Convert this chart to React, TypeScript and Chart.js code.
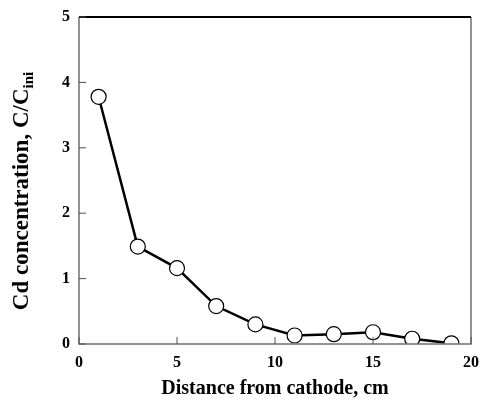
import React, { useEffect, useRef } from "react";
import { Chart, registerables } from "chart.js";

Chart.register(...registerables);

const distances = [1, 3, 5, 7, 9, 11, 13, 15, 17, 19];
const concentration = [3.78, 1.49, 1.16, 0.58, 0.3, 0.13, 0.15, 0.18, 0.08, 0.01];
const xTicks = [0, 5, 10, 15, 20];
const yTicks = [0, 1, 2, 3, 4, 5];
const xTitle = "Distance from cathode, cm";
const yTitleMain = "Cd concentration, C/C";
const yTitleSub = "ini";

const FONT = "'Liberation Serif', 'Times New Roman', serif";

const framePlugin = {
  id: "frame",
  afterDraw(chart: any) {
    const { ctx, chartArea } = chart;
    const { left, right, top, bottom } = chartArea;
    const xs = chart.scales.x;
    const ys = chart.scales.y;
    ctx.save();
    ctx.lineWidth = 1.5;
    ctx.strokeStyle = "#707070";
    ctx.beginPath();
    ctx.moveTo(left, top);
    ctx.lineTo(left, bottom);
    ctx.lineTo(right, bottom);
    ctx.lineTo(right, top);
    ctx.stroke();
    ctx.strokeStyle = "#000";
    ctx.lineWidth = 2;
    ctx.beginPath();
    ctx.moveTo(left, top);
    ctx.lineTo(right, top);
    ctx.stroke();
    ctx.lineWidth = 1;
    ctx.strokeStyle = "#505050";
    const tl = 7;
    xTicks.forEach((v) => {
      const px = xs.getPixelForValue(v);
      ctx.beginPath();
      ctx.moveTo(px, bottom);
      ctx.lineTo(px, bottom - tl);
      ctx.stroke();
    });
    yTicks.forEach((v) => {
      const py = ys.getPixelForValue(v);
      ctx.beginPath();
      ctx.moveTo(left, py);
      ctx.lineTo(left + tl, py);
      ctx.stroke();
    });
    // x title
    ctx.fillStyle = "#000";
    ctx.font = `bold 20px ${FONT}`;
    ctx.textAlign = "center";
    ctx.textBaseline = "middle";
    ctx.fillText(xTitle, (left + right) / 2, 389);
    // y title with subscript
    ctx.translate(22, 191);
    ctx.rotate(-Math.PI / 2);
    ctx.font = `bold 23px ${FONT}`;
    const w1 = ctx.measureText(yTitleMain).width;
    ctx.font = `bold 15px ${FONT}`;
    const w2 = ctx.measureText(yTitleSub).width;
    const total = w1 + w2;
    ctx.textAlign = "left";
    ctx.font = `bold 23px ${FONT}`;
    ctx.fillText(yTitleMain, -total / 2, 0);
    ctx.font = `bold 15px ${FONT}`;
    ctx.fillText(yTitleSub, -total / 2 + w1, 7);
    ctx.restore();
  },
};

export default function App() {
  const ref = useRef<HTMLCanvasElement>(null);
  useEffect(() => {
    if (!ref.current) return;
    const chart = new Chart(ref.current, {
      type: "scatter",
      data: {
        datasets: [
          {
            data: distances.map((d, i) => ({ x: d, y: concentration[i] })),
            showLine: true,
            borderColor: "#000",
            borderWidth: 2.5,
            pointRadius: 7.5,
            pointBackgroundColor: "#fff",
            pointBorderColor: "#000",
            pointBorderWidth: 1.2,
          },
        ],
      },
      options: {
        animation: false,
        responsive: false,
        maintainAspectRatio: false,
        layout: { padding: { top: 17, right: 3, left: 0, bottom: 0 } },
        plugins: { legend: { display: false }, tooltip: { enabled: false } },
        scales: {
          x: {
            type: "linear",
            min: 0,
            max: 20,
            afterBuildTicks: (s: any) => {
              s.ticks = xTicks.map((v) => ({ value: v }));
            },
            afterFit: (s: any) => {
              s.height = 55;
            },
            grid: { display: false },
            border: { display: false },
            ticks: {
              padding: 1,
              color: "#000",
              font: { family: FONT, size: 16, weight: "bold" },
            },
          },
          y: {
            type: "linear",
            min: 0,
            max: 5,
            afterBuildTicks: (s: any) => {
              s.ticks = yTicks.map((v) => ({ value: v }));
            },
            afterFit: (s: any) => {
              s.width = 79;
            },
            grid: { display: false },
            border: { display: false },
            ticks: {
              padding: 1,
              color: "#000",
              font: { family: FONT, size: 16, weight: "bold" },
            },
          },
        },
      },
      plugins: [framePlugin],
    } as any);
    return () => chart.destroy();
  }, []);
  return (
    <div style={{ position: "absolute", left: 0, top: 0, width: 480, height: 399 }}>
      <canvas ref={ref} width={480} height={399} />
    </div>
  );
}
